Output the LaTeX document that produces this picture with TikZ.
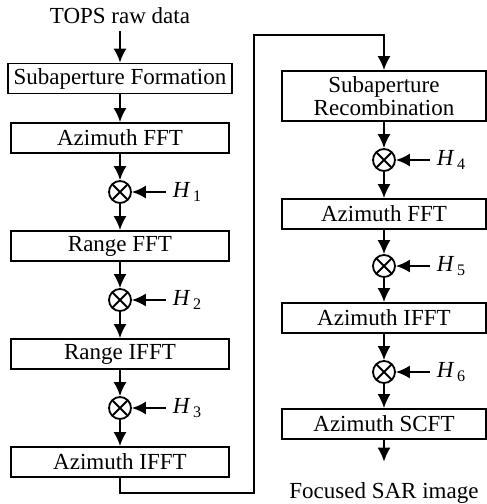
\documentclass[tikz,border=0pt]{standalone}
\usepackage{fontspec}
\setmainfont{Liberation Serif}
\usetikzlibrary{arrows.meta}

\tikzset{
  cross line/.style={line width=0.9pt},
}

\begin{document}
\begin{tikzpicture}[node distance=27pt, line width=0.9pt,
  font=\fontsize{11.5pt}{11.5pt}\selectfont,
  >={Latex[length=7pt,width=6.5pt]},
  main node/.style={draw, minimum height=15pt, inner xsep=3pt, inner ysep=2pt, minimum width=109pt},
  right node/.style={main node, minimum width=102pt},
  text node/.style={inner sep=3pt},
  mult node/.style={circle, draw, minimum size=11pt, inner sep=0pt,
    path picture={
      \draw[cross line] ([shift={(45:5.5pt)}]path picture bounding box.center) -- ([shift={(225:5.5pt)}]path picture bounding box.center)
                        ([shift={(135:5.5pt)}]path picture bounding box.center) -- ([shift={(-45:5.5pt)}]path picture bounding box.center);
    }},
  flow/.style={->}]
\useasboundingbox (-60pt,8pt) rectangle (183.5pt,-244pt);

% left column
\node[text node]                                    (tops)    {TOPS raw data};
\node[main node, below of=tops, node distance=31.25pt]   (subform) {Subaperture Formation};
\node[main node, below of=subform, node distance=29.75pt] (azfft)  {Azimuth FFT};
\node[mult node, below of=azfft]                    (mult1)   {};
\node[main node, below of=mult1]                    (rgfft)   {Range FFT};
\node[mult node, below of=rgfft]                    (mult2)   {};
\node[main node, below of=mult2]                    (rgifft)  {Range IFFT};
\node[mult node, below of=rgifft]                   (mult3)   {};
\node[main node, below of=mult3]                    (azifft)  {Azimuth IFFT};

\node[text node, right of=mult1, node distance=33.75pt] (h1) {\textit{H}\textsubscript{\,1}};
\node[text node, right of=mult2, node distance=33.75pt] (h2) {\textit{H}\textsubscript{\,2}};
\node[text node, right of=mult3, node distance=33.75pt] (h3) {\textit{H}\textsubscript{\,3}};

% right column
\node[right node, inner ysep=1pt, minimum height=25pt, align=center] at (132pt,-40pt) (recomb) {Subaperture\\Recombination};
\node[mult node, below of=recomb, node distance=32pt] (mult4)  {};
\node[right node, below of=mult4]                     (azfft2) {Azimuth FFT};
\node[mult node, below of=azfft2, node distance=26pt] (mult5)  {};
\node[right node, below of=mult5, node distance=26pt] (azifft2) {Azimuth IFFT};
\node[mult node, below of=azifft2]                    (mult6)  {};
\node[right node, below of=mult6, node distance=26pt] (azscft) {Azimuth SCFT};
\node[text node, below of=azscft, node distance=34.5pt] (focused) {Focused SAR image};

\node[text node, right of=mult4, node distance=33.75pt] (h4) {\textit{H}\textsubscript{\,4}};
\node[text node, right of=mult5, node distance=33.75pt] (h5) {\textit{H}\textsubscript{\,5}};
\node[text node, right of=mult6, node distance=33.75pt] (h6) {\textit{H}\textsubscript{\,6}};

\coordinate (bendlow)  at (67pt,-238.5pt);
\coordinate (bendhigh) at (67pt,-9.5pt);

\path[flow]
(tops)    edge (subform)
(subform) edge (azfft)
(azfft)   edge (mult1)
(mult1)   edge (rgfft)
(rgfft)   edge (mult2)
(mult2)   edge (rgifft)
(rgifft)  edge (mult3)
(mult3)   edge (azifft)
(h1)      edge (mult1)
(h2)      edge (mult2)
(h3)      edge (mult3)
(recomb)  edge (mult4)
(mult4)   edge (azfft2)
(azfft2)  edge (mult5)
(mult5)   edge (azifft2)
(azifft2) edge (mult6)
(mult6)   edge (azscft)
(azscft)  edge[shorten >=7pt] (focused)
(h4)      edge (mult4)
(h5)      edge (mult5)
(h6)      edge (mult6)
;
\draw[flow] (azifft) |- (bendlow) -- (bendhigh) -| (recomb);
\end{tikzpicture}
\end{document}
